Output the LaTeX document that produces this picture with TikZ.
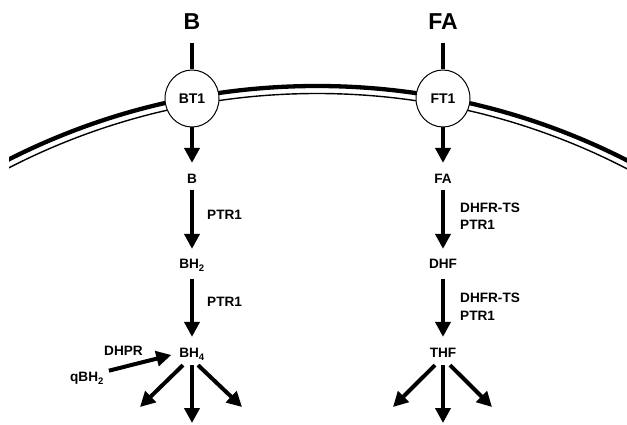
\documentclass[tikz,border=0pt]{standalone}
\usepackage{fontspec}
\setmainfont{Liberation Sans}
\usetikzlibrary{arrows.meta,shapes.geometric}
\begin{document}
\begin{tikzpicture}[x=1pt,y=-1pt,
  lbl/.style={font=\bfseries\fontsize{13.6}{14}\selectfont, inner sep=0pt, text height=9.8pt, text depth=0pt},
  ttl/.style={font=\bfseries\fontsize{23}{23}\selectfont, inner sep=0pt, text height=16.5pt, text depth=0pt},
  trans/.style={ellipse, draw, line width=1pt, fill=white, minimum width=54pt, minimum height=57pt, inner sep=0pt,
    font=\bfseries\fontsize{14}{14}\selectfont},
  flow/.style={line width=4pt, -{Triangle[length=15pt,width=15pt]}},
  plainline/.style={line width=4pt},
]
\useasboundingbox (0,0) rectangle (627,425);
% membrane
\begin{scope}
  \clip (9,0) rectangle (627,425);
  \coordinate (mc) at (317,768);
  \draw[line width=4.3pt] (mc) circle[radius=682pt];
  \draw[line width=1.4pt] (mc) circle[radius=674.5pt];
\end{scope}

% titles and transporters
\node[ttl] (tB) at (192,21.5) {B};
\node[ttl] (tFA) at (443,21.5) {FA};
\node[trans] (BT1) at (192,98.5) {BT1};
\node[trans] (FT1) at (443,98.5) {FT1};
\draw[plainline, shorten <=13pt] (tB.south) -- (BT1.north);
\draw[plainline, shorten <=13pt] (tFA.south) -- (FT1.north);

% left column
\node[lbl] (b) at (192,179) {B};
\node[lbl] (bh2) at (192,264) {BH\textsubscript{2}};
\node[lbl] (bh4) at (192,353) {BH\textsubscript{4}};
\node[lbl, anchor=west] (p1) at (207,215) {PTR1};
\node[lbl, anchor=west] (p2) at (207,302) {PTR1};
\node[lbl] (dhpr) at (123.5,351) {DHPR};
\node[lbl] (qbh2) at (87,377) {qBH\textsubscript{2}};

\draw[flow, shorten >=11pt] (BT1.south) -- (b.north);
\draw[flow, shorten <=6pt, shorten >=10pt] (b.south) -- (bh2.north);
\draw[flow, shorten <=10pt, shorten >=11pt] (bh2.south) -- (bh4.north);
\draw[flow, shorten <=5pt, shorten >=8pt] (qbh2.north east) -- (bh4.west);

\coordinate (bhL) at (140,407);
\coordinate (bhD) at (192,423);
\coordinate (bhR) at (242,407);
\draw[flow] ([xshift=-9pt,yshift=-7pt]bh4.south) -- (bhL);
\draw[flow] ([yshift=-7pt]bh4.south) -- (bhD);
\draw[flow] ([xshift=6pt,yshift=-7pt]bh4.south) -- (bhR);

% right column
\node[lbl] (fa) at (443,179) {FA};
\node[lbl] (dhf) at (443,264) {DHF};
\node[lbl] (thf) at (443,353) {THF};
\node[lbl, anchor=west] (d1) at (460,207.5) {DHFR-TS};
\node[lbl, anchor=west] (q1) at (460,225) {PTR1};
\node[lbl, anchor=west] (d2) at (460,298) {DHFR-TS};
\node[lbl, anchor=west] (q2) at (460,316) {PTR1};

\draw[flow, shorten >=11pt] (FT1.south) -- (fa.north);
\draw[flow, shorten <=6pt, shorten >=10pt] (fa.south) -- (dhf.north);
\draw[flow, shorten <=10pt, shorten >=11pt] (dhf.south) -- (thf.north);

\coordinate (thL) at (393,407);
\coordinate (thD) at (443,423);
\coordinate (thR) at (492,407);
\draw[flow] ([xshift=-8pt,yshift=-7pt]thf.south) -- (thL);
\draw[flow] ([yshift=-7pt]thf.south) -- (thD);
\draw[flow] ([xshift=7pt,yshift=-7pt]thf.south) -- (thR);
\end{tikzpicture}
\end{document}
